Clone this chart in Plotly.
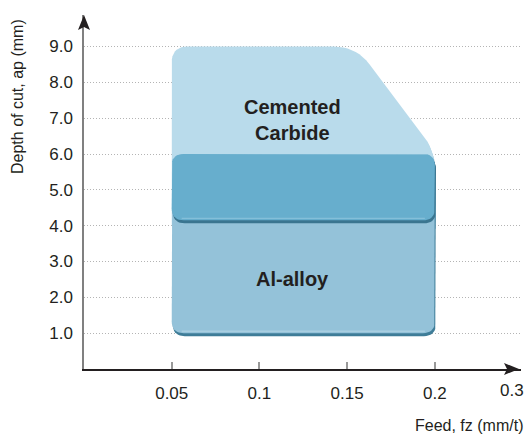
import plotly.graph_objects as go
import numpy as np

# 加工領域のデータ (送り fz [mm/t], 切込み ap [mm])
feed_range = [0.05, 0.2]
carbide_depth = [4.0, 9.0]
carbide_chamfer = [0.155, 6.1]      # 右上の面取り: 上辺の終点 fz, 右辺の始点 ap
al_depth = [1.0, 6.0]
overlap_depth = [4.15, 6.0]

x_ticks = [0.05, 0.1, 0.15, 0.2]
x_tick_text = ["0.05", "0.1", "0.15", "0.2"]
y_ticks = [1, 2, 3, 4, 5, 6, 7, 8, 9]
y_tick_text = ["1.0", "2.0", "3.0", "4.0", "5.0", "6.0", "7.0", "8.0", "9.0"]

labels = ["Cemented<br>Carbide", "Al-alloy"]
label_pos = [(0.119, 6.95), (0.119, 2.51)]

# レイアウト
W, H = 526, 437
M = dict(l=84, r=5, t=15, b=68)
PW = W - M["l"] - M["r"]
PH = H - M["t"] - M["b"]
x_max = 0.2491
y_max = 9.88
sx = PW / x_max
sy = PH / y_max

FONT = "Liberation Sans, Arial, sans-serif"
TXT = "#231f20"


def rounded(pts, radii, dx=0, dy=0, n=10):
    # 角を丸めたポリゴン (ピクセル空間で計算してデータ座標に戻す)
    P = np.array([(x * sx, y * sy) for x, y in pts])
    xs, ys = [], []
    for i, r in enumerate(radii):
        p = P[i]
        if r == 0:
            xs.append(p[0]); ys.append(p[1]); continue
        a_dir = P[i - 1] - p
        b_dir = P[(i + 1) % len(P)] - p
        a = p + a_dir / np.linalg.norm(a_dir) * r
        b = p + b_dir / np.linalg.norm(b_dir) * r
        for t in np.linspace(0, 1, n):
            q = (1 - t) ** 2 * a + 2 * (1 - t) * t * p + t ** 2 * b
            xs.append(q[0]); ys.append(q[1])
    xs.append(xs[0]); ys.append(ys[0])
    return [(v + dx) / sx for v in xs], [(v + dy) / sy for v in ys]


def rect(d):
    return [(feed_range[0], d[0]), (feed_range[0], d[1]),
            (feed_range[1], d[1]), (feed_range[1], d[0])]


fig = go.Figure()


def add_region(pts, radii, fill, shadow, hl=None):
    x, y = rounded(pts, radii, dx=1, dy=-3)
    fig.add_trace(go.Scatter(x=x, y=y, fill="toself", fillcolor=shadow, mode="lines",
                             line=dict(width=0), hoverinfo="skip", showlegend=False))
    x, y = rounded(pts, radii)
    fig.add_trace(go.Scatter(x=x, y=y, fill="toself", fillcolor=fill, mode="lines",
                             line=dict(width=0), hoverinfo="skip", showlegend=False))
    if hl:
        y0 = pts[0][1] + 2 / sy
        fig.add_trace(go.Scatter(x=[feed_range[0] + 10 / sx, feed_range[1] - 10 / sx], y=[y0, y0],
                                 mode="lines", line=dict(width=1, color=hl),
                                 hoverinfo="skip", showlegend=False))


carbide_pts = [(feed_range[0], carbide_depth[0]), (feed_range[0], carbide_depth[1]),
               (carbide_chamfer[0], carbide_depth[1]), (feed_range[1], carbide_chamfer[1]),
               (feed_range[1], carbide_depth[0])]
add_region(carbide_pts, [0, 16, 22, 20, 0], "#b9dbeb", "#a7cbdc")
add_region(rect(al_depth), [12, 12, 12, 12], "#94c2d9", "#3f7d98", hl="#b5d6e6")
add_region(rect(overlap_depth), [12, 12, 12, 12], "#67aecd", "#3a7590", hl="#8cc3dc")

for t, (x, y) in zip(labels, label_pos):
    fig.add_annotation(x=x, y=y, text=f"<b>{t}</b>", showarrow=False,
                       font=dict(size=20, color=TXT, family=FONT))

# 軸タイトル・ラベル
fig.add_annotation(xref="paper", yref="paper", x=(18 - M["l"]) / PW, y=(369 - 97) / PH,
                   xanchor="center", yanchor="middle",
                   text="Depth of cut, ap (mm)", textangle=-90, showarrow=False,
                   font=dict(size=16, color=TXT, family=FONT))
fig.add_annotation(xref="paper", yref="paper", x=(525 - M["l"]) / PW, y=(369 - 425) / PH,
                   xanchor="right", yanchor="middle", text="Feed, fz (mm/t)", showarrow=False,
                   font=dict(size=16, color=TXT, family=FONT))
fig.add_annotation(xref="paper", yref="paper", x=(512 - M["l"]) / PW, y=(369 - 390) / PH,
                   xanchor="center", yanchor="middle", text="0.3", showarrow=False,
                   font=dict(size=17, color=TXT, family=FONT))

# 矢印
ax_w, ax_l, ax_n = 6 / PW, 15 / PH, 12 / PH
fig.add_shape(type="path", xref="paper", yref="paper", fillcolor=TXT, line=dict(width=0),
              path=f"M 0,1 L {-ax_w},{1 - ax_l} L 0,{1 - ax_n} L {ax_w},{1 - ax_l} Z")
tip = (519 - M["l"]) / PW
aw, al, an = 6 / PH, 15 / PW, 12 / PW
fig.add_shape(type="path", xref="paper", yref="paper", fillcolor=TXT, line=dict(width=0),
              path=f"M {tip},0 L {tip - al},{aw} L {tip - an},0 L {tip - al},{-aw} Z")

fig.update_xaxes(range=[0, x_max], tickvals=x_ticks, ticktext=x_tick_text,
                 ticks="inside", ticklen=7, tickcolor="#999", tickwidth=1.5,
                 showline=True, linecolor=TXT, linewidth=1.5, showgrid=False, zeroline=False,
                 ticklabelstandoff=8, tickfont=dict(size=17, color=TXT, family=FONT))
fig.update_yaxes(range=[0, y_max], tickvals=y_ticks, ticktext=y_tick_text,
                 showline=True, linecolor="#808080", linewidth=1.5, zeroline=False,
                 showgrid=True, gridcolor="#b4b4b4", griddash="1px,2px", gridwidth=1,
                 ticklabelstandoff=6, tickfont=dict(size=17, color=TXT, family=FONT))

fig.update_layout(width=W, height=H, margin=M, plot_bgcolor="white", paper_bgcolor="white",
                  showlegend=False)
fig.write_html("out.html", config={"displayModeBar": False},
               post_script="document.body.style.margin='0px';")
